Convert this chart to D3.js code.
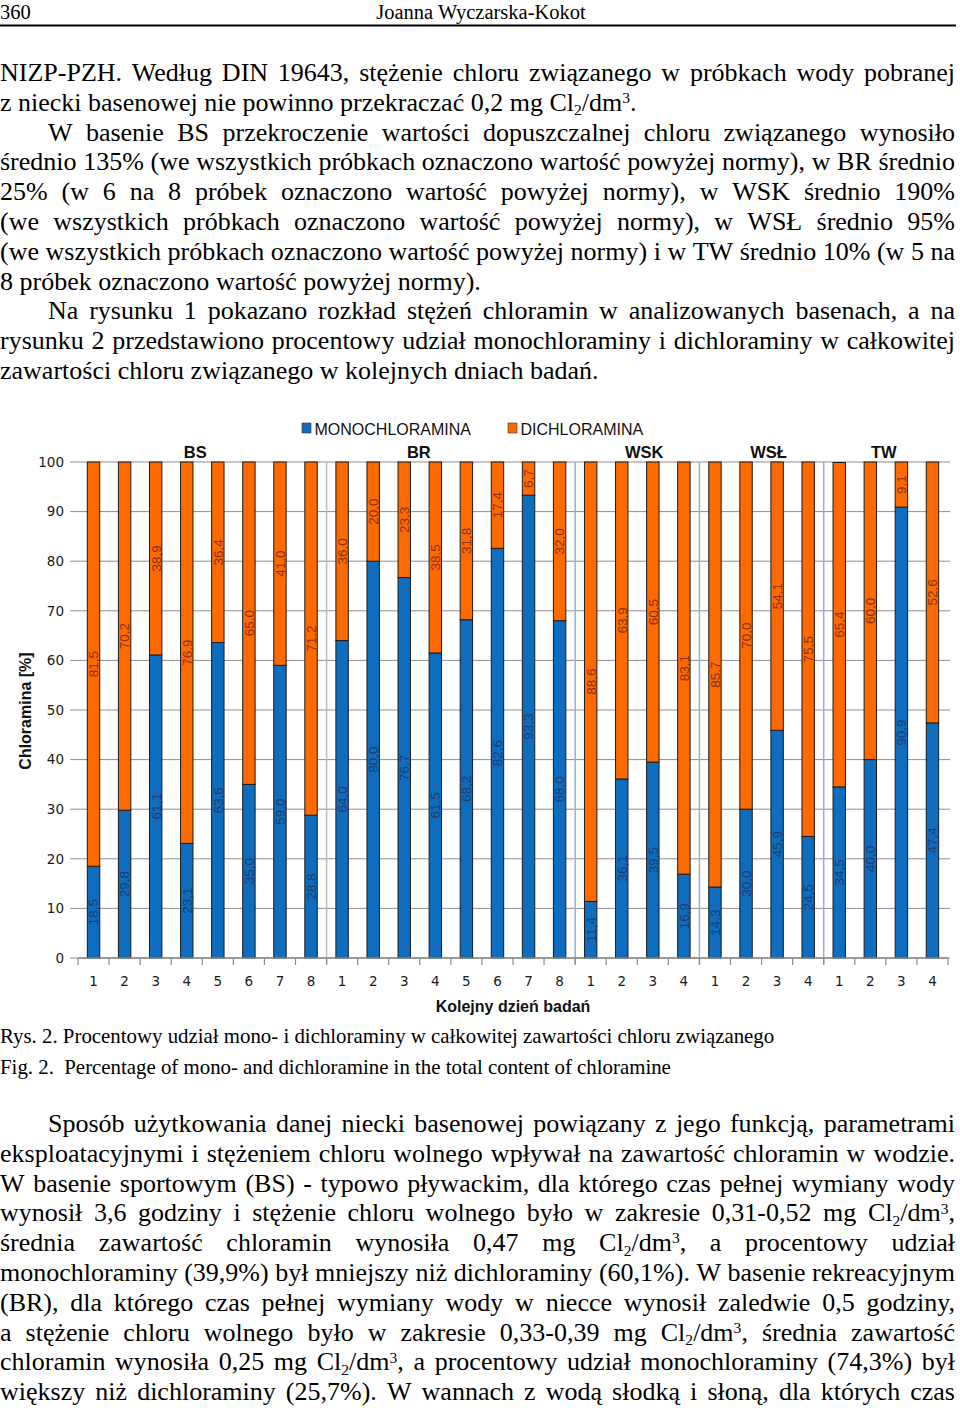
<!DOCTYPE html>
<html>
<head>
<meta charset="utf-8">
<script src="https://cdn.jsdelivr.net/npm/d3@7"></script>
<style>
  html, body { margin: 0; padding: 0; background: #fff; }
  svg { display: block; }
</style>
</head>
<body>
<script>
// ---------------- DATA ----------------
const groups = ["BS", "BR", "WSK", "WSŁ", "TW"];
const groupDays = [8, 8, 4, 4, 4];
const dayLabels = ["1","2","3","4","5","6","7","8",
                   "1","2","3","4","5","6","7","8",
                   "1","2","3","4",
                   "1","2","3","4",
                   "1","2","3","4"];
const monochloramina = [18.5, 29.8, 61.1, 23.1, 63.6, 35.0, 59.0, 28.8,
                        64.0, 80.0, 76.7, 61.5, 68.2, 82.6, 93.3, 68.0,
                        11.4, 36.1, 39.5, 16.9,
                        14.3, 30.0, 45.9, 24.5,
                        34.5, 40.0, 90.9, 47.4];
const dichloramina = [81.5, 70.2, 38.9, 76.9, 36.4, 65.0, 41.0, 71.2,
                      36.0, 20.0, 23.3, 38.5, 31.8, 17.4, 6.7, 32.0,
                      88.6, 63.9, 60.5, 83.1,
                      85.7, 70.0, 54.1, 75.5,
                      65.4, 60.0, 9.1, 52.6];
const yTicks = [0, 10, 20, 30, 40, 50, 60, 70, 80, 90, 100];
const seriesNames = ["MONOCHLORAMINA", "DICHLORAMINA"];

const headerPage = "360";
const headerAuthor = "Joanna Wyczarska-Kokot";
const paraTop = [
  { indent: false, lines: [
    "NIZP-PZH. Według DIN 19643, stężenie chloru związanego w próbkach wody pobranej",
    "z niecki basenowej nie powinno przekraczać 0,2 mg Cl_2/dm^3."] },
  { indent: true, lines: [
    "W basenie BS przekroczenie wartości dopuszczalnej chloru związanego wynosiło",
    "średnio 135% (we wszystkich próbkach oznaczono wartość powyżej normy), w BR średnio",
    "25% (w 6 na 8 próbek oznaczono wartość powyżej normy), w WSK średnio 190%",
    "(we wszystkich próbkach oznaczono wartość powyżej normy), w WSŁ średnio 95%",
    "(we wszystkich próbkach oznaczono wartość powyżej normy) i w TW średnio 10% (w 5 na",
    "8 próbek oznaczono wartość powyżej normy)."] },
  { indent: true, lines: [
    "Na rysunku 1 pokazano rozkład stężeń chloramin w analizowanych basenach, a na",
    "rysunku 2 przedstawiono procentowy udział monochloraminy i dichloraminy w całkowitej",
    "zawartości chloru związanego w kolejnych dniach badań."] }
];
const captionPL = "Rys. 2. Procentowy udział mono- i dichloraminy w całkowitej zawartości chloru związanego";
const captionEN = "Fig. 2.  Percentage of mono- and dichloramine in the total content of chloramine";
const paraBottom = [
  { indent: true, last: false, lines: [
    "Sposób użytkowania danej niecki basenowej powiązany z jego funkcją, parametrami",
    "eksploatacyjnymi i stężeniem chloru wolnego wpływał na zawartość chloramin w wodzie.",
    "W basenie sportowym (BS) - typowo pływackim, dla którego czas pełnej wymiany wody",
    "wynosił 3,6 godziny i stężenie chloru wolnego było w zakresie 0,31-0,52 mg Cl_2/dm^3,",
    "średnia zawartość chloramin wynosiła 0,47 mg Cl_2/dm^3, a procentowy udział",
    "monochloraminy (39,9%) był mniejszy niż dichloraminy (60,1%). W basenie rekreacyjnym",
    "(BR), dla którego czas pełnej wymiany wody w niecce wynosił zaledwie 0,5 godziny,",
    "a stężenie chloru wolnego było w zakresie 0,33-0,39 mg Cl_2/dm^3, średnia zawartość",
    "chloramin wynosiła 0,25 mg Cl_2/dm^3, a procentowy udział monochloraminy (74,3%) był",
    "większy niż dichloraminy (25,7%). W wannach z wodą słodką i słoną, dla których czas"] }
];
const xTitle = "Kolejny dzień badań";
const yTitle = "Chloramina [%]";

// ---------------- PAGE ----------------
const W = 960, H = 1408;
const svg = d3.select("body").append("svg").attr("width", W).attr("height", H);
svg.append("rect").attr("width", W).attr("height", H).attr("fill", "#fff");

const SERIF = "'Liberation Serif', 'Times New Roman', serif";
const SANS = "'Liberation Sans', Arial, sans-serif";
const TEXT_RIGHT = 955;
const BODY_FS = 26;
const LINE_H = 29.8;

// header
svg.append("text").attr("x", 0).attr("y", 19).attr("font-family", SERIF).attr("font-size", 20.5).text(headerPage);
svg.append("text").attr("x", 481).attr("y", 19).attr("text-anchor", "middle").attr("font-family", SERIF).attr("font-size", 20.5).text(headerAuthor);
svg.append("line").attr("x1", 0).attr("x2", 956).attr("y1", 25.5).attr("y2", 25.5).attr("stroke", "#000").attr("stroke-width", 2);

function addWord(g, word, fs) {
  const t = g.append("text").attr("font-family", SERIF).attr("font-size", fs).attr("fill", "#000");
  const parts = word.split(/(_\d|\^\d)/).filter(p => p.length);
  let shift = 0;
  parts.forEach(p => {
    const ts = t.append("tspan");
    if (p[0] === "_") {
      ts.attr("font-size", fs * 0.6).attr("dy", fs * 0.18 - shift).text(p.slice(1));
      shift = fs * 0.18;
    } else if (p[0] === "^") {
      ts.attr("font-size", fs * 0.6).attr("dy", -fs * 0.3 - shift).text(p.slice(1));
      shift = -fs * 0.3;
    } else {
      if (shift !== 0) ts.attr("dy", -shift);
      shift = 0;
      ts.text(p);
    }
  });
  return t;
}

function drawLine(str, x0, y, justify, fs) {
  const g = svg.append("g");
  const words = str.split(" ");
  const nodes = words.map(w => addWord(g, w, fs));
  const widths = nodes.map(n => n.node().getComputedTextLength());
  const sum = d3.sum(widths);
  let gap = fs * 0.25;
  if (justify && words.length > 1) gap = (TEXT_RIGHT - x0 - sum) / (words.length - 1);
  let x = x0;
  nodes.forEach((n, i) => {
    n.attr("x", x).attr("y", y);
    x += widths[i] + gap;
  });
}

function drawParagraphs(paras, yStart) {
  let y = yStart;
  paras.forEach(p => {
    p.lines.forEach((ln, i) => {
      const x0 = (p.indent && i === 0) ? 48 : 0;
      const lastLine = i === p.lines.length - 1;
      const justify = !lastLine || p.last === false;
      drawLine(ln, x0, y, justify, BODY_FS);
      y += LINE_H;
    });
  });
}
drawParagraphs(paraTop, 81);
drawParagraphs(paraBottom, 1132);

svg.append("text").attr("x", 0).attr("y", 1043).attr("font-family", SERIF).attr("font-size", 20.85).text(captionPL);
svg.append("text").attr("x", 0).attr("y", 1074).attr("font-family", SERIF).attr("font-size", 20.85)
  .attr("xml:space", "preserve").style("white-space", "pre").text(captionEN);

// ---------------- CHART ----------------
const X0 = 78, X1 = 948, Y0 = 958, Y1 = 462;
const n = monochloramina.length;
const idx = d3.range(n);
const x = d3.scaleBand().domain(idx).range([X0, X1]).paddingInner(0.6).paddingOuter(0.3);
const y = d3.scaleLinear().domain([0, 100]).range([Y0, Y1]);
const step = x.step();
const fmt = v => d3.format(".1f")(v).replace(".", ",");

const chart = svg.append("g");

// gridlines
chart.append("g").selectAll("line").data(yTicks).join("line")
  .attr("x1", X0 - 8).attr("x2", X1 + 2)
  .attr("y1", d => y(d)).attr("y2", d => y(d))
  .attr("stroke", "#8f8f8f").attr("stroke-width", 1);

// y tick labels
chart.append("g").selectAll("text").data(yTicks).join("text")
  .attr("x", 64).attr("y", d => y(d)).attr("dy", "0.36em")
  .attr("text-anchor", "end").attr("font-family", "'DejaVu Sans', Verdana, sans-serif")
  .attr("font-size", 13.5).attr("fill", "#1a1a1a").text(d => d);

// group separators
const bounds = [];
let acc = 0;
groupDays.forEach((g, i) => { acc += g; if (i < groupDays.length - 1) bounds.push(acc); });
chart.append("g").selectAll("line").data(bounds).join("line")
  .attr("x1", d => X0 + d * step).attr("x2", d => X0 + d * step)
  .attr("y1", Y1).attr("y2", Y0 + 6)
  .attr("stroke", (d, i) => i === 0 ? "#b8bcc4" : "#9aaecb").attr("stroke-width", 1.5);

// stacked bars
const table = idx.map(i => ({ i, mono: monochloramina[i], di: dichloramina[i] }));
const stack = d3.stack().keys(["mono", "di"])(table);
const colors = { mono: "#0f6dc0", di: "#ff6a00" };
const labelColors = { mono: "#1c3c6e", di: "#8a2f0e" };

stack.forEach(layer => {
  const key = layer.key;
  chart.append("g").selectAll("rect").data(layer).join("rect")
    .attr("x", d => x(d.data.i)).attr("width", x.bandwidth())
    .attr("y", d => y(d[1])).attr("height", d => y(d[0]) - y(d[1]))
    .attr("fill", colors[key]).attr("stroke", "#1b1b1b").attr("stroke-width", 1);
  chart.append("g").selectAll("text").data(layer).join("text")
    .attr("transform", d => `translate(${x(d.data.i) + x.bandwidth() / 2},${(y(d[0]) + y(d[1])) / 2}) rotate(-90)`)
    .attr("text-anchor", "middle").attr("dy", "0.36em")
    .attr("font-family", SANS).attr("font-size", 13.5).attr("fill", labelColors[key])
    .text(d => fmt(d.data[key]));
});

// x axis
chart.append("line").attr("x1", X0).attr("x2", X1).attr("y1", Y0).attr("y2", Y0)
  .attr("stroke", "#8a8a8a").attr("stroke-width", 1.5);
chart.append("g").selectAll("line").data(d3.range(n + 1)).join("line")
  .attr("x1", d => X0 + d * step).attr("x2", d => X0 + d * step)
  .attr("y1", Y0).attr("y2", Y0 + 7).attr("stroke", "#8a8a8a").attr("stroke-width", 1.2);
chart.append("g").selectAll("text").data(idx).join("text")
  .attr("x", d => x(d) + x.bandwidth() / 2).attr("y", 986)
  .attr("text-anchor", "middle").attr("font-family", "'DejaVu Sans', Verdana, sans-serif")
  .attr("font-size", 13.5).attr("fill", "#1a1a1a").text(d => dayLabels[d]);

// group labels
const groupDx = [-7, -32, 7, 7, -2];
let start = 0;
groups.forEach((g, i) => {
  const cx = X0 + (start + groupDays[i] / 2) * step + groupDx[i];
  chart.append("text").attr("x", cx).attr("y", 458).attr("text-anchor", "middle")
    .attr("font-family", SANS).attr("font-weight", "bold").attr("font-size", 16.5).attr("fill", "#111").text(g);
  start += groupDays[i];
});

// legend
const legendX = [302, 508];
seriesNames.forEach((s, i) => {
  const key = i === 0 ? "mono" : "di";
  chart.append("rect").attr("x", legendX[i]).attr("y", 423).attr("width", 9).attr("height", 10)
    .attr("fill", colors[key]).attr("stroke", "#333").attr("stroke-width", 0.6);
  chart.append("text").attr("x", legendX[i] + 12.5).attr("y", 434.5)
    .attr("font-family", SANS).attr("font-size", 16).attr("fill", "#111").text(s);
});

// axis titles
chart.append("text").attr("x", 513).attr("y", 1012).attr("text-anchor", "middle")
  .attr("font-family", SANS).attr("font-weight", "bold").attr("font-size", 16).attr("fill", "#111").text(xTitle);
chart.append("text").attr("transform", "translate(31,711) rotate(-90)").attr("text-anchor", "middle")
  .attr("font-family", SANS).attr("font-weight", "bold").attr("font-size", 16).attr("fill", "#111").text(yTitle);
</script>
</body>
</html>
